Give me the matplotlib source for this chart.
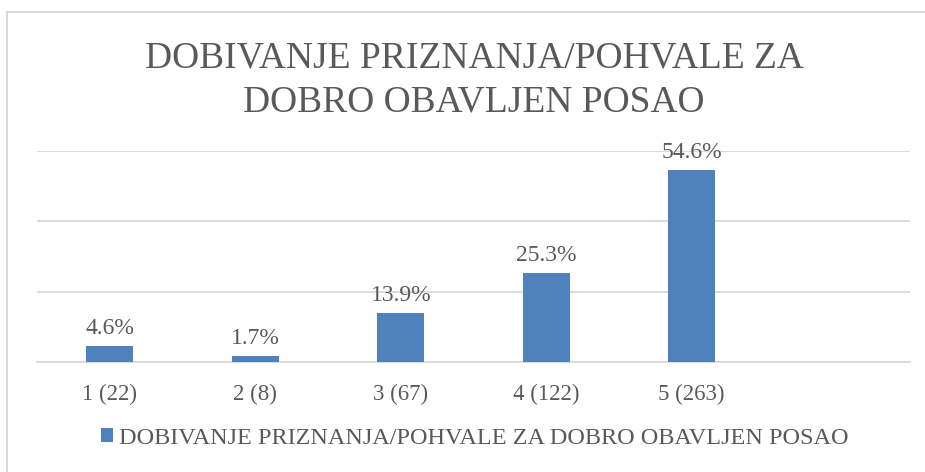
import matplotlib
matplotlib.use("Agg")
import matplotlib.pyplot as plt
from matplotlib.lines import Line2D

categories = ["1 (22)", "2 (8)", "3 (67)", "4 (122)", "5 (263)", ""]
values = [4.6, 1.7, 13.9, 25.3, 54.6, None]
labels = ["4.6%", "1.7%", "13.9%", "25.3%", "54.6%"]
series_name = "DOBIVANJE PRIZNANJA/POHVALE ZA DOBRO OBAVLJEN POSAO"
title = "DOBIVANJE PRIZNANJA/POHVALE ZA\nDOBRO OBAVLJEN POSAO"
yticks = [0, 20, 40, 60]

bar_color = "#4F81BD"
text_color = "#595959"
grid_color = "#D9D9D9"
font = "Liberation Serif"

fig = plt.figure(figsize=(9.25, 4.72), dpi=100)
bx, by = 7/925, 1 - 12/472
fig.add_artist(Line2D([bx, 1.05], [by, by], transform=fig.transFigure,
                      color="#D9D9D9", linewidth=1.5))
fig.add_artist(Line2D([bx, bx], [-0.05, by], transform=fig.transFigure,
                      color="#D9D9D9", linewidth=1.5))
ax = fig.add_axes([37/925, (472-362)/472, (910-37)/925, (362-151)/472])

x = list(range(len(categories)))
vals = [v if v is not None else 0 for v in values]
bars = ax.bar(x, vals, width=0.32, color=bar_color, zorder=3, label=series_name)
for i, lab in enumerate(labels):
    ax.text(x[i], vals[i] + 2.0, lab, ha="center", va="bottom", fontsize=17,
            color=text_color, family=font)

ax.set_xlim(-0.5, len(categories) - 0.5)
ax.set_ylim(0, 60)
ax.set_yticks(yticks)
ax.yaxis.grid(True, color=grid_color, linewidth=1.3, zorder=0)
ax.tick_params(axis="y", left=False, labelleft=False)
ax.tick_params(axis="x", bottom=False, pad=12)
ax.set_xticks(x)
ax.set_xticklabels(categories, fontsize=16.5, color=text_color, family=font)
for s in ["top", "right", "left"]:
    ax.spines[s].set_visible(False)
ax.spines["bottom"].set_color(grid_color)
ax.spines["bottom"].set_linewidth(1.3)

fig.text(474/925, 1 - 80/472, title, ha="center", va="center", fontsize=27,
         color=text_color, family=font, linespacing=1.35)

leg = fig.legend(handles=[bars], labels=[series_name], loc="center",
                 bbox_to_anchor=(475/925, 1 - 438/472), frameon=False,
                 prop={"family": font, "size": 17.5}, handlelength=0.5, handleheight=0.5,
                 handletextpad=0.25)
for t in leg.get_texts():
    t.set_color(text_color)

fig.savefig("out.png", dpi=100)
